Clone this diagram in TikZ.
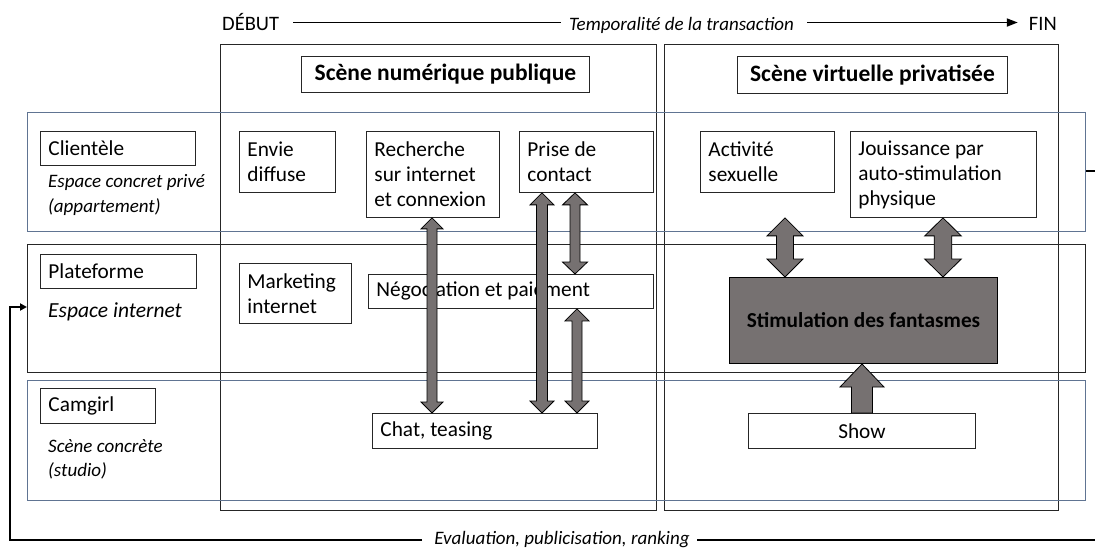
\documentclass[tikz,border=0pt]{standalone}
\usepackage{fontspec}
\setmainfont{Carlito}
\usetikzlibrary{calc,arrows.meta}
\definecolor{agray}{RGB}{118,113,113}
\definecolor{bandblue}{RGB}{96,116,146}
\newcommand\fbody{\fontsize{21.3}{25}\selectfont}
\newcommand\ftitle{\fontsize{23.5}{27}\selectfont\bfseries}
\newcommand\fdesc{\fontsize{19}{24.5}\selectfont\itshape}
\newcommand\fhead{\fontsize{20.5}{24}\selectfont}
\newcommand\fnote{\fontsize{19}{24}\selectfont\itshape}
% double block arrow: #1 top point, #2 bottom point, #3 shaft half, #4 head half, #5 head length
\newcommand\dblblock[5]{%
  \draw[blk] let \p1=#1, \p2=#2 in
   (\x1,\y1) -- ({\x1+#4pt},{\y1-#5pt}) -- ({\x1+#3pt},{\y1-#5pt}) -- ({\x1+#3pt},{\y2+#5pt})
   -- ({\x1+#4pt},{\y2+#5pt}) -- (\x1,\y2) -- ({\x1-#4pt},{\y2+#5pt}) -- ({\x1-#3pt},{\y2+#5pt})
   -- ({\x1-#3pt},{\y1-#5pt}) -- ({\x1-#4pt},{\y1-#5pt}) -- cycle;}
% single block arrow pointing up: #1 tip, #2 base
\newcommand\upblock[5]{%
  \draw[blk] let \p1=#1, \p2=#2 in
   (\x1,\y1) -- ({\x1+#4pt},{\y1-#5pt}) -- ({\x1+#3pt},{\y1-#5pt}) -- ({\x1+#3pt},\y2)
   -- ({\x1-#3pt},\y2) -- ({\x1-#3pt},{\y1-#5pt}) -- ({\x1-#4pt},{\y1-#5pt}) -- cycle;}
\begin{document}
\begin{tikzpicture}[x=1pt,y=-1pt,
  column/.style={draw=black!85, line width=1.1pt, anchor=north west, inner sep=0pt},
  bandb/.style={draw=bandblue, line width=1.1pt, anchor=north west, inner sep=0pt},
  bandk/.style={draw=black!85, line width=1.1pt, anchor=north west, inner sep=0pt},
  bx/.style={draw=black!85, fill=white, line width=0.9pt, anchor=north west, align=flush left,
             inner xsep=8pt, inner ysep=0pt, font=\fbody},
  cbx/.style={bx, align=flush center},
  ttl/.style={draw=black!85, fill=white, line width=0.9pt, anchor=north west, inner sep=0pt, font=\ftitle},
  desc/.style={anchor=west, align=flush left, inner sep=0pt, font=\fdesc},
  blk/.style={fill=agray, draw=black, line width=0.8pt, line join=miter},
  loop/.style={line width=2.2pt, draw=black},
  ]
\useasboundingbox (0,0) rectangle (1095,548);

% columns
\node[column, minimum width=436pt, minimum height=466pt] (colL) at (220,44) {};
\node[column, minimum width=394pt, minimum height=466pt] (colR) at (664,44) {};
% bands
\node[bandb, minimum width=1058pt, minimum height=119pt] (bcli) at (27,112) {};
\node[bandk, minimum width=1058pt, minimum height=128pt] (bplat) at (27,244) {};
\node[bandb, minimum width=1058pt, minimum height=120pt] (bcam) at (27,380) {};

% titles
\node[ttl, minimum width=288pt, minimum height=36pt] (t1) at (301,56) {Scène numérique publique};
\node[ttl, minimum width=270pt, minimum height=37pt] (t2) at (737,56) {Scène virtuelle privatisée};

% row labels
\node[bx, text width=139pt, minimum height=34pt] (lcli) at (40,131) {Clientèle};
\node[desc] (dcli) at (48,195) {Espace concret privé\\(appartement)};
\node[bx, text width=140pt, minimum height=34pt] (lplat) at (40,254) {Plateforme};
\node[desc, font=\fontsize{21.5}{25}\selectfont\itshape] (dplat) at (48,312) {Espace internet};
\node[bx, text width=99pt, minimum height=35pt] (lcam) at (40,388) {Camgirl};
\node[desc] (dcam) at (48,459.5) {Scène concrète\\(studio)};

% left column content
\node[bx, text width=80pt, minimum height=61pt] (envie) at (239,131) {Envie\\diffuse};
\node[bx, text width=96pt, minimum height=60pt] (market) at (239,263) {Marketing\\internet};
\node[bx, text width=117pt, minimum height=86pt] (rech) at (366,131) {Recherche\\sur internet\\et connexion};
\node[bx, text width=118pt, minimum height=61pt] (prise) at (519,131) {Prise de\\contact};
\node[bx, text width=269pt, minimum height=34pt] (nego) at (368,274) {Négociation et paiement};
\node[bx, text width=209pt, minimum height=35pt] (chat) at (372,413) {Chat, teasing};

% right column content
\node[bx, text width=118pt, minimum height=61pt] (act) at (700,131) {Activité\\sexuelle};
\node[bx, text width=170pt, minimum height=86pt] (jouis) at (850,131) {Jouissance par\\auto-stimulation\\physique};
\node[draw=black, fill=agray, line width=1pt, anchor=north west, minimum width=268pt, minimum height=86pt,
      inner sep=0pt, font=\fbody\bfseries] (stim) at (729,277) {Stimulation des fantasmes};
\node[cbx, text width=211pt, minimum height=35pt] (show) at (748,413) {Show};

% arrow axes
\coordinate (a1) at (432,0);
\coordinate (a2) at (542,0);
\coordinate (a3) at (575,0);
\coordinate (a4) at (577,0);
\coordinate (aA) at (785,0);
\coordinate (aB) at (943,0);
\coordinate (aC) at (862,0);

\dblblock{(a1 |- rech.south)}{(a1 |- chat.north)}{5}{11}{11}
\dblblock{(a2 |- prise.south)}{(a2 |- chat.north)}{5.5}{12}{12}
\dblblock{(a3 |- prise.south)}{(a3 |- nego.north)}{5}{12.5}{12}
\dblblock{(a4 |- nego.south)}{(a4 |- chat.north)}{5}{12}{12}
\dblblock{(aA |- jouis.south)}{(aA |- stim.north)}{8.5}{18}{18}
\dblblock{(aB |- jouis.south)}{(aB |- stim.north)}{8.8}{18.3}{18}
\upblock{(aC |- stim.south)}{(aC |- show.north)}{10.5}{22}{23}

% time axis
\node[anchor=base west, inner sep=0pt, font=\fhead] (debut) at (222,31) {DÉBUT};
\node[anchor=base, inner sep=0pt, font=\fnote] (temp) at (681.5,31) {Temporalité de la transaction};
\node[anchor=base east, inner sep=0pt, font=\fhead] (fin) at (1057,31) {FIN};
\draw[line width=1.8pt] ([xshift=14pt]debut.east) -- ([xshift=-8pt]temp.west |- debut.east);
\draw[line width=1.8pt, -{Triangle[length=11pt,width=8pt]}] ([xshift=13pt]temp.east |- debut.east) -- ([xshift=-11pt]fin.west |- debut.east);

% feedback loop
\node[inner sep=0pt, font=\fnote] (eval) at (562,540) {Evaluation, publicisation, ranking};
\coordinate (bl) at (10,540);
\coordinate (loopy) at (0,307);
\coordinate (stubR) at (1100,171);
\coordinate (botR) at (1100,540);
\begin{scope}
\clip (0,0) rectangle (1095,548);
\draw[loop] (bcli.east |- stubR) -- (stubR) -- (botR) -- ([xshift=7pt]eval.east);
\end{scope}
\draw[loop, -{Triangle[length=7pt,width=7pt]}] ([xshift=-12pt]eval.west) -- (bl) |- (bplat.west |- loopy);
\end{tikzpicture}
\end{document}
